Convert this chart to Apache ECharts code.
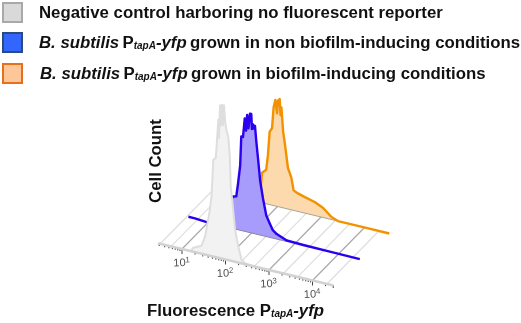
<!DOCTYPE html>
<html><head><meta charset="utf-8">
<style>html,body{margin:0;padding:0;background:#fff}#c{width:521px;height:323px}</style>
<script src="https://cdn.jsdelivr.net/npm/echarts@6/dist/echarts.min.js"></script>
</head><body><div id="c"></div>
<script>
// log10 fluorescence and cell counts
var greyLog  = [1.2,1.26,1.40,1.45,1.53,1.63,1.68,1.72,1.775,1.80,1.835,1.85,1.875,1.90,1.92,1.945,1.965,1.99,2.02,2.065,2.10,2.12,2.155,2.22,2.295,2.37,2.45,2.6];
var greyCnt  = [0,4,7,8,18,43,60,97,99,114,138,120,153,133,154,134,154,139,130,123,104,74,61,32,16,3.4,1,0];
var blueLog  = [0.55,0.7,0.97,1.3,1.5,1.575,1.65,1.69,1.74,1.765,1.805,1.845,1.875,1.90,1.93,1.965,1.995,2.01,2.035,2.06,2.08,2.11,2.15,2.20,2.265,2.34,2.42,2.49,2.58,2.81,3.19,3.80,4.49];
var blueCnt  = [1,1,0,2,25,32,33,46,65,94,94,113,101,117,104,119,119,104,109,105,108,93,76,54,37,21,14,8,5,1,0.5,0.3,0];
var orangeLog= [1.58,1.645,1.74,1.78,1.82,1.875,1.91,1.95,1.99,2.01,2.05,2.07,2.09,2.13,2.165,2.24,2.32,2.37,2.47,2.63,2.855,3.05,3.24,3.39,3.51,3.97,4.57];
var orangeCnt= [0,30,34,49,73,77,98,106,93,106,108,92,100,76,66,41,32,20,18,16,13.5,9.5,2.5,0,0,0,0];
var decades  = [1,2,3,4];
var gridLight= [0.5,0.75,1.33,1.66,2.33,2.66,3.33,3.66,4.33];
var minorTicks=[0.477,0.602,0.699,0.778,0.845,0.903,0.954,1.301,1.477,1.602,1.699,1.778,1.845,1.903,1.954,2.301,2.477,2.602,2.699,2.778,2.845,2.903,2.954,3.301,3.477,3.602,3.699,3.778,3.845,3.903,3.954,4.301,4.477];
var legendRows = [
 '{b|Negative control harboring no fluorescent reporter}',
 '{i|B. subtilis} {b|P}{s|tapA}{i|-yfp} {b|grown in non biofilm-inducing conditions}',
 '{i|B. subtilis} {b|P}{s|tapA}{i|-yfp} {b|grown in biofilm-inducing conditions}'
];

function proj(L,d,c){ return [182+43.5*(L-1)+26*d, 249+10.5*(L-1)-26.5*d-(c||0)]; }
function curve(ls,cs,d){ return ls.map(function(L,i){return proj(L,d,cs[i]);}); }

function population(ls,cs,d,fill,stroke,lw,fillFrom,fillTo,baseColor){
  return {type:'custom',data:[0],silent:true,clip:false,renderItem:function(p,api){
    var pts=curve(ls,cs,d).map(function(q){return api.coord(q);});
    var fp=[];ls.forEach(function(L,i){if(L>=fillFrom&&L<=fillTo)fp.push(pts[i]);});
    var a=api.coord(proj(fillFrom,d,0)),b=api.coord(proj(fillTo,d,0));
    var ch=[{type:'polygon',shape:{points:[a].concat(fp,[b])},style:{fill:fill,stroke:null}}];
    if(baseColor)ch.push({type:'line',shape:{x1:a[0],y1:a[1],x2:b[0],y2:b[1]},style:{stroke:baseColor,lineWidth:1}});
    ch.push({type:'polyline',shape:{points:pts},style:{fill:null,stroke:stroke,lineWidth:lw,lineJoin:'round'}});
    return {type:'group',children:ch};
  }};
}
function floorSeries(){
  var items=[];
  gridLight.forEach(function(L){items.push([L,0]);});
  decades.forEach(function(L){items.push([L,1]);});
  return {type:'custom',data:items,silent:true,clip:false,renderItem:function(p,api){
    var L=api.value(0),major=api.value(1);
    var a=api.coord(proj(L,0)),b=api.coord(proj(L,2));
    return {type:'line',shape:{x1:a[0],y1:a[1],x2:b[0],y2:b[1]},style:{stroke:major?'#a8a8a8':'#dedede',lineWidth:1.2}};
  }};
}
function tickSeries(){
  var items=[];
  minorTicks.forEach(function(L){items.push([L,2.5]);});
  decades.forEach(function(L){items.push([L,5]);});
  return {type:'custom',data:items,silent:true,clip:false,renderItem:function(p,api){
    var L=api.value(0),h=api.value(1);
    var a=api.coord(proj(L,0)),x=a[0],y=a[1];
    return {type:'line',shape:{x1:x,y1:y,x2:x,y2:y+h},style:{stroke:'#444',lineWidth:1}};
  }};
}
var option={
  animation:false,
  grid:{left:0,right:0,top:0,bottom:0},
  xAxis:{type:'value',min:0,max:521,show:false},
  yAxis:{type:'value',min:0,max:323,inverse:true,show:false},
  series:[
    floorSeries(),
    {type:'line',silent:true,symbol:'none',data:[proj(0.45,0),proj(4.48,0)],lineStyle:{color:'#d2d2d2',width:2.5}},
    tickSeries(),
    population(orangeLog,orangeCnt,2,'#fdd9ae','#f39200',2.4,1.58,3.39,'#a9a294'),
    population(blueLog,blueCnt,1,'#a79cfb','#2a00ee',2.4,1.3,2.81,'#8a86a8'),
    population(greyLog,greyCnt,0,'#f2f2f2','#dedede',2,1.2,2.6,null),
    {type:'scatter',silent:true,symbolSize:0,clip:false,
      data:decades.map(function(L){return {value:proj(L,0),label:{formatter:'{a|10}{b|'+L+'}'}};}),
      label:{show:true,position:'inside',offset:[-1,14],rotate:3,
        rich:{a:{fontFamily:'Liberation Sans',fontSize:11,color:'#222'},
              b:{fontFamily:'Liberation Sans',fontSize:8,color:'#222',verticalAlign:'top',padding:[0,0,5,0]}}}}
  ],
  graphic:[]
};
var rich={
  b:{fontFamily:'Liberation Sans',fontWeight:'bold',fontSize:16.8,fill:'#111',color:'#111'},
  i:{fontFamily:'Liberation Sans',fontWeight:'bold',fontStyle:'italic',fontSize:16.8,fill:'#111',color:'#111'},
  s:{fontFamily:'Liberation Sans',fontWeight:'bold',fontStyle:'italic',fontSize:10,fill:'#111',color:'#111',verticalAlign:'bottom',padding:[5,0,0,0]}
};
var swatches=[[3,3,'#d9d9d9','#a9a9a9'],[3,33,'#3366ff','#2b4a80'],[3,64,'#fdc799','#e8701a']];
var rowY=[13,43,74], rowX=[39,39,40];
swatches.forEach(function(s){
  option.graphic.push({type:'rect',shape:{x:s[0],y:s[1],width:19,height:19},style:{fill:s[2],stroke:s[3],lineWidth:2}});
});
legendRows.forEach(function(t,i){
  option.graphic.push({type:'text',x:rowX[i],y:rowY[i],style:{text:t,rich:rich,verticalAlign:'middle',align:'left'}});
});
option.graphic.push({type:'text',x:156,y:161,rotation:Math.PI/2,style:{text:'Cell Count',fontFamily:'Liberation Sans',fontWeight:'bold',fontSize:16.8,fill:'#111',align:'center',verticalAlign:'middle'}});
option.graphic.push({type:'text',x:147,y:311,style:{text:'{b|Fluorescence P}{s|tapA}{i|-yfp}',rich:rich,verticalAlign:'middle',align:'left'}});
echarts.init(document.getElementById('c'),null,{renderer:'canvas'}).setOption(option);
</script></body></html>
